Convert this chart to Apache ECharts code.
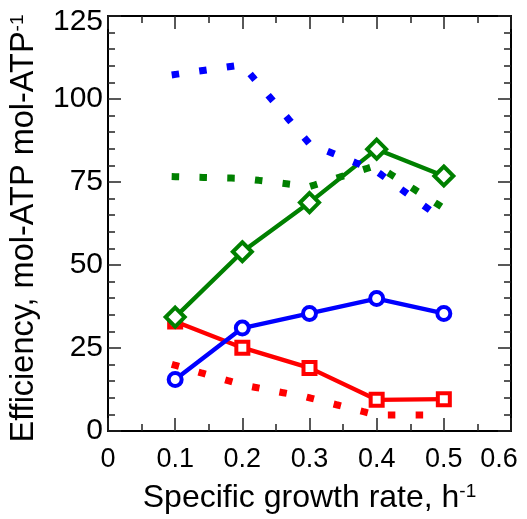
<!DOCTYPE html>
<html>
<head>
<meta charset="utf-8">
<script src="https://cdn.jsdelivr.net/npm/echarts@6/dist/echarts.min.js"></script>
<style>
html,body{margin:0;padding:0;background:#fff;}
#chart{width:527px;height:519px;}
</style>
</head>
<body>
<div id="chart"></div>
<script>
const growthRates = [0.1, 0.2, 0.3, 0.4, 0.5];
const blueSolid = [15.5, 31.0, 35.4, 39.9, 35.4];
const redSolid = [33.0, 25.1, 19.0, 9.4, 9.6];
const greenSolid = [34.3, 54.0, 68.8, 84.9, 76.8];
const blueDotted = [107.4, 110.3, 86.5, 78.2, 63.5];
const greenDotted = [76.6, 76.1, 73.6, 80.0, 67.1];
const redDotted = [19.8, 13.9, 10.0, 4.8, 4.8];
const xTicks = [0, 0.1, 0.2, 0.3, 0.4, 0.5, 0.6];
const yTicks = [0, 25, 50, 75, 100, 125];

const FONT = "'Liberation Sans', Arial, sans-serif";
const pairs = ys => growthRates.map((x, i) => [x, ys[i]]);

const solid = (ys, color, symbol, size) => ({
  type: 'line', data: pairs(ys), symbol: symbol, symbolSize: size,
  lineStyle: {color: color, width: 4.3},
  itemStyle: {color: '#fff', borderColor: color, borderWidth: 4},
  emphasis: {disabled: true}, animation: false, z: 3
});
const dotted = (ys, color) => ({
  type: 'line', data: pairs(ys), symbol: 'none',
  lineStyle: {color: color, width: 7, type: [0.5, 27.3], cap: 'square'},
  emphasis: {disabled: true}, animation: false, z: 4
});

const chart = echarts.init(document.getElementById('chart'), null, {renderer: 'canvas'});
const axisCommon = {
  axisLine: {show: true, onZero: false, lineStyle: {color: '#000', width: 2}},
  splitLine: {show: false}
};
chart.setOption({
  backgroundColor: '#fff',
  animation: false,
  grid: {left: 107, right: 16, top: 16, bottom: 85, containLabel: false},
  xAxis: [
    Object.assign({}, axisCommon, {
      type: 'value', min: xTicks[0], max: xTicks[xTicks.length - 1], interval: 0.1,
      position: 'bottom',
      axisTick: {show: true, inside: true, length: 13, lineStyle: {color: '#222', width: 1.5}},
      minorTick: {show: true, splitNumber: 2, length: 7, lineStyle: {color: '#222', width: 1.5}},
      axisLabel: {
        margin: 15, color: '#000', fontFamily: FONT, fontSize: 27,
        formatter: v => {
          const s = String(Math.round(v * 10) / 10);
          return Math.abs(v - 0.6) < 1e-9 ? '{last|' + s + '}' : s;
        },
        rich: {last: {fontSize: 27, fontFamily: FONT, color: '#000', padding: [0, 24, 0, 0]}}
      },
      name: 'Specific growth rate, h{sup|-1}',
      nameLocation: 'middle', nameGap: 51,
      nameTextStyle: {color: '#000', fontFamily: FONT, fontSize: 32,
        rich: {sup: {fontSize: 19, fontFamily: FONT, color: '#000', verticalAlign: 'top'}}}
    }),
    Object.assign({}, axisCommon, {
      type: 'value', min: xTicks[0], max: xTicks[xTicks.length - 1], interval: 0.1,
      position: 'top',
      axisTick: {show: true, inside: true, length: 13, lineStyle: {color: '#222', width: 1.5}},
      minorTick: {show: true, splitNumber: 2, length: 7, lineStyle: {color: '#222', width: 1.5}},
      axisLabel: {show: false}
    })
  ],
  yAxis: [
    Object.assign({}, axisCommon, {
      type: 'value', min: yTicks[0], max: yTicks[yTicks.length - 1], interval: 25,
      position: 'left',
      axisTick: {show: true, inside: true, length: 13, lineStyle: {color: '#222', width: 1.5}},
      minorTick: {show: true, splitNumber: 5, length: 7, lineStyle: {color: '#222', width: 1.5}},
      axisLabel: {
        margin: 5, color: '#000', fontFamily: FONT, fontSize: 30,
        formatter: v => v === 125 ? '{top|' + v + '}' : String(v),
        rich: {top: {fontSize: 30, fontFamily: FONT, color: '#000', padding: [12, 0, 0, 0]}}
      },
      name: 'Efficiency, mol-ATP mol-ATP{sup|-1}',
      nameLocation: 'middle', nameGap: 67, nameRotate: 90,
      nameTextStyle: {color: '#000', fontFamily: FONT, fontSize: 32.5, padding: [0, 10, 0, 0],
        rich: {sup: {fontSize: 19, fontFamily: FONT, color: '#000', verticalAlign: 'top'}}}
    }),
    Object.assign({}, axisCommon, {
      type: 'value', min: yTicks[0], max: yTicks[yTicks.length - 1], interval: 25,
      position: 'right',
      axisTick: {show: true, inside: true, length: 13, lineStyle: {color: '#222', width: 1.5}},
      minorTick: {show: true, splitNumber: 5, length: 7, lineStyle: {color: '#222', width: 1.5}},
      axisLabel: {show: false}
    })
  ],
  series: [
    solid(redSolid, '#ff0000', 'rect', 12),
    solid(blueSolid, '#0000ff', 'circle', 13),
    solid(greenSolid, '#008000', 'diamond', 19),
    dotted(redDotted, '#ff0000'),
    dotted(greenDotted, '#008000'),
    dotted(blueDotted, '#0000ff')
  ]
});
</script>
</body>
</html>
